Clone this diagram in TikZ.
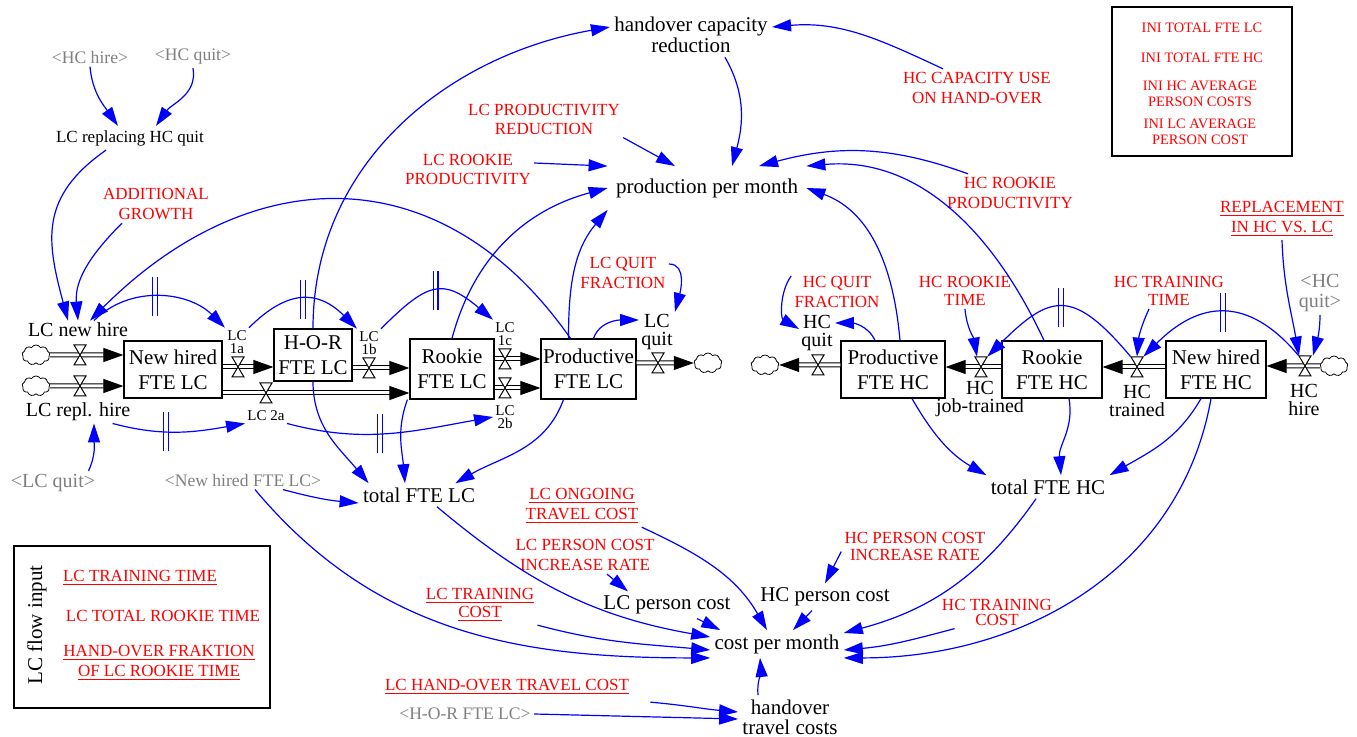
\documentclass[tikz,border=0pt]{standalone}
\usepackage{fontspec}
\setmainfont{Liberation Serif}
\usetikzlibrary{arrows.meta,shapes.symbols}
\newcommand{\fsz}[2]{\fontsize{#1pt}{#2pt}\selectfont}
\begin{document}
\begin{tikzpicture}[x=0.5pt,y=0.5pt,
    stockbox/.style={draw,line width=0.6pt,align=center,font=\fsz{10.5}{12.5},inner sep=0pt},
    auxvar/.style={align=center,font=\fsz{10.5}{9},inner sep=2pt},
    constvar/.style={align=center,text=red,font=\fsz{8.5}{10},inner sep=1.5pt},
    shadowvar/.style={align=center,text=gray,font=\fsz{8.8}{9},inner sep=1.5pt},
    flowlabel/.style={align=center,font=\fsz{10}{9},inner sep=1pt},
    flowsmall/.style={align=center,font=\fsz{7.5}{6.8},inner sep=1pt},
    valvept/.style={minimum width=6pt,minimum height=10pt,inner sep=0pt},
    cloudnode/.style={cloud,cloud puffs=9,cloud puff arc=120,aspect=1.5,draw,line width=0.4pt,minimum width=14pt,minimum height=10pt,inner sep=0pt},
    flowpipe/.style={draw=black,double,double distance=1.5pt,line width=0.5pt,-{Triangle[length=10pt,width=7pt]}},
    infolink/.style={blue,line width=0.6pt,-{Triangle[length=9.5pt,width=6pt]}},
    delaymark/.style={blue,line width=0.6pt},
    valve/.pic={\draw[fill=white,line width=0.5pt] (-6,10) -- (6,10) -- (-6,-10) -- (6,-10) -- cycle;}]
\fill[white] (0,0) rectangle (1357,-737);
\useasboundingbox (0,0) rectangle (1357,-737);
% stocks
\node[stockbox,minimum width=49pt,minimum height=28.5pt] (nhLC) at (173,-369.5) {New hired\\FTE LC};
\node[stockbox,minimum width=39pt,minimum height=26pt] (horLC) at (313,-355) {H-O-R\\FTE LC};
\node[stockbox,minimum width=42pt,minimum height=30pt] (rkLC) at (452,-369) {Rookie\\FTE LC};
\node[stockbox,minimum width=47.5pt,minimum height=30pt] (prLC) at (588.5,-369) {Productive\\FTE LC};
\node[stockbox,minimum width=52pt,minimum height=28.5pt] (prHC) at (893,-369.5) {Productive\\FTE HC};
\node[stockbox,minimum width=50pt,minimum height=28.5pt] (rkHC) at (1052,-369.5) {Rookie\\FTE HC};
\node[stockbox,minimum width=50pt,minimum height=28.5pt] (nhHC) at (1216,-369.5) {New hired\\FTE HC};
% valves and clouds
\node[valvept] (vNewHire) at (80,-355) {};
\node[valvept] (vRepl) at (80,-386) {};
\node[valvept] (v1a) at (238,-367) {};
\node[valvept] (v1b) at (369,-368) {};
\node[valvept] (v2a) at (266,-393) {};
\node[valvept] (v1c) at (505,-359) {};
\node[valvept] (v2b) at (505,-388) {};
\node[valvept] (vLCquit) at (658,-363) {};
\node[valvept] (vHCquit) at (818,-365) {};
\node[valvept] (vJob) at (981,-367) {};
\node[valvept] (vTrained) at (1137,-367) {};
\node[valvept] (vHire) at (1305,-366) {};
\node[cloudnode] (sNewHire) at (36,-355) {};
\node[cloudnode] (sRepl) at (36,-386) {};
\node[cloudnode] (sLCquit) at (708,-363) {};
\node[cloudnode] (sHCquit) at (765,-365) {};
\node[cloudnode] (sHire) at (1334,-366) {};
% flows
\draw[flowpipe] (sNewHire) -- (nhLC.west |- vNewHire);
\draw[flowpipe] (sRepl) -- (nhLC.west |- vRepl);
\draw[flowpipe] (nhLC.east |- v1a) -- (horLC.west |- v1a);
\draw[flowpipe] (nhLC.east |- v2a) -- (rkLC.west |- v2a);
\draw[flowpipe] (horLC.east |- v1b) -- (rkLC.west |- v1b);
\draw[flowpipe] (rkLC.east |- v1c) -- (prLC.west |- v1c);
\draw[flowpipe] (rkLC.east |- v2b) -- (prLC.west |- v2b);
\draw[flowpipe] (prLC.east |- vLCquit) -- (sLCquit);
\draw[flowpipe] (prHC.west |- vHCquit) -- (sHCquit);
\draw[flowpipe] (rkHC.west |- vJob) -- (prHC.east |- vJob);
\draw[flowpipe] (nhHC.west |- vTrained) -- (rkHC.east |- vTrained);
\draw[flowpipe] (sHire) -- (nhHC.east |- vHire);
\foreach \v in {vNewHire,vRepl,v1a,v1b,v2a,v1c,v2b,vLCquit,vHCquit,vJob,vTrained,vHire}
  \pic at (\v) {valve};
% flow names
\node[flowlabel] (lnh) at (78,-330) {LC\ new hire};
\node[flowlabel] (lrepl) at (78,-412) {LC\ repl. hire};
\node[flowsmall] (l1a) at (237,-342) {LC\\1a};
\node[flowsmall] (l1b) at (369,-343) {LC\\1b};
\node[flowsmall] (l2a) at (266,-416) {LC 2a};
\node[flowsmall] (l1c) at (505,-334) {LC\\1c};
\node[flowsmall] (l2b) at (505,-417) {LC\\2b};
\node[flowlabel] (lLCquit) at (657,-332) {LC\\quit};
\node[flowlabel] (lHCquit) at (817,-333) {HC\\quit};
\node[flowlabel] (lJob) at (980,-399) {HC\\job-trained};
\node[flowlabel] (lTrained) at (1137,-401) {HC\\trained};
\node[flowlabel] (lHire) at (1304,-400) {HC\\hire};
% auxiliaries
\node[auxvar] (hcr) at (691,-35) {handover capacity\\reduction};
\node[auxvar,inner xsep=4pt,inner ysep=6pt] (ppm) at (707,-188) {production per month};
\node[auxvar,font=\fsz{8.5}{10}] (lcrep) at (130,-138) {LC replacing HC quit};
\node[auxvar] (tFTELC) at (419,-495) {total FTE LC};
\node[auxvar] (tFTEHC) at (1048,-487) {total FTE HC};
\node[auxvar] (lcpc) at (667,-605) {LC person cost};
\node[auxvar] (hcpc) at (825,-597) {HC person cost};
\node[auxvar] (cpm) at (777,-644) {cost per month};
\node[auxvar,font=\fsz{10.5}{10}] (htc) at (790,-717) {handover\\travel costs};
% constants
\node[constvar,font=\fsz{8.5}{9.5}] (cLCprodRed) at (544,-119) {LC PRODUCTIVITY\\REDUCTION};
\node[constvar,font=\fsz{8.5}{9.5}] (cLCrookieProd) at (468,-170) {LC ROOKIE\\PRODUCTIVITY};
\node[constvar] (cHCcapUse) at (977,-88) {HC CAPACITY USE\\ON HAND-OVER};
\node[constvar] (cHCrookieProd) at (1010,-193) {HC ROOKIE\\PRODUCTIVITY};
\node[constvar] (cAddGrowth) at (156,-204) {ADDITIONAL\\GROWTH};
\node[constvar] (cRepl) at (1282,-219) {\underline{REPLACEMENT}\\\underline{IN HC VS. LC}};
\node[constvar] (cLCquitFrac) at (623,-273) {LC QUIT\\FRACTION};
\node[constvar] (cHCquitFrac) at (837,-292) {HC QUIT\\FRACTION};
\node[constvar,font=\fsz{8.5}{9}] (cHCrookieTime) at (965,-291) {HC ROOKIE\\TIME};
\node[constvar,font=\fsz{8.5}{9}] (cHCtrainTime) at (1169,-291) {HC TRAINING\\TIME};
\node[constvar] (cLCongoing) at (582,-506) {\underline{LC ONGOING}\\\underline{TRAVEL COST}};
\node[constvar] (cLCpcir) at (585,-555) {LC PERSON COST\\INCREASE RATE};
\node[constvar,font=\fsz{8.5}{9}] (cLCtrainCost) at (480,-605) {\underline{LC TRAINING}\\\underline{COST}};
\node[constvar,font=\fsz{8.5}{8.5}] (cHCpcir) at (915,-546) {HC PERSON COST\\INCREASE RATE};
\node[constvar,font=\fsz{8.5}{7.5}] (cHCtrainCost) at (997,-612) {HC TRAINING\\COST};
\node[constvar] (cLChoTravel) at (507,-687) {\underline{LC HAND-OVER TRAVEL COST}};
% shadow variables
\node[shadowvar] (gHChire) at (90,-57) {\textless HC hire\textgreater};
\node[shadowvar] (gHCquit) at (193,-57) {\textless HC quit\textgreater};
\node[shadowvar] (gNewHiredLC) at (243,-480) {\textless New hired FTE LC\textgreater};
\node[shadowvar] (gHOR) at (465,-714) {\textless H-O-R FTE LC\textgreater};
\node[shadowvar,font=\fsz{10}{10}] (gLCquit) at (53,-483) {\textless LC quit\textgreater};
\node[shadowvar,font=\fsz{10}{10}] (gHCquit2) at (1320,-293) {\textless HC\\quit\textgreater};
% boxes
\node[draw,line width=0.6pt,minimum width=90pt,minimum height=74.5pt] (iniBox) at (1202,-81.5) {};
\node[constvar,font=\fsz{7.2}{8}] (iniLC) at (1202,-28) {INI TOTAL FTE LC};
\node[constvar,font=\fsz{7.2}{8}] (iniHC) at (1202,-58) {INI TOTAL FTE HC};
\node[constvar,font=\fsz{7.2}{8}] (iniHCcost) at (1200,-94) {INI HC AVERAGE\\PERSON COSTS};
\node[constvar,font=\fsz{7.2}{8}] (iniLCcost) at (1200,-132) {INI LC AVERAGE\\PERSON COST};
\node[draw,line width=0.6pt,minimum width=128pt,minimum height=81pt] (flowBox) at (142,-627) {};
\node[rotate=90,font=\fsz{10.5}{12}] (flowTitle) at (37,-625) {LC flow input};
\node[constvar] (lcTrainTime) at (140,-578) {\underline{LC TRAINING TIME}};
\node[constvar] (lcRookieTime) at (163,-616) {LC TOTAL ROOKIE TIME};
\node[constvar] (hoFrak) at (159,-663) {\underline{HAND-OVER FRAKTION}\\\underline{OF LC ROOKIE TIME}};
% links, LC side
\draw[infolink] (gHChire.south) to[out=-85,in=125] ([xshift=-6pt]lcrep.north);
\draw[infolink] (gHCquit.south) to[out=-80,in=55] ([xshift=13pt]lcrep.north);
\draw[infolink] ([xshift=-12pt]lcrep.south) to[out=-145,in=105,looseness=1.2] ([xshift=-5pt]lnh.north);
\draw[infolink] ([xshift=-17pt]cAddGrowth.south) to[out=-135,in=95] (lnh.north);
\draw[infolink] ([xshift=-9pt]prLC.north) to[out=125,in=45,looseness=1.2] ([xshift=6pt]lnh.north);
\draw[infolink] ([xshift=8pt]lnh.north) to[out=45,in=135] coordinate[pos=0.47] (d1) (l1a.north west);
\draw[infolink] (l1a.north east) to[out=45,in=135,looseness=1.3] coordinate[pos=0.5] (d2) (l1b.north west);
\draw[infolink] (l1b.north east) to[out=45,in=140,looseness=1.5] coordinate[pos=0.5] (d3) (l1c.north west);
\draw[infolink] ([xshift=-10pt]lrepl.south east) to[out=-15,in=-170] coordinate[pos=0.4] (d4) (l2a.south west);
\draw[infolink] (l2a.south east) to[out=-15,in=-170] coordinate[pos=0.45] (d5) (l2b.west);
\draw[infolink] ([xshift=-5pt]gLCquit.north east) to[out=65,in=-90] ([xshift=8pt]lrepl.south);
\draw[infolink] (horLC.north) to[out=90,in=-170] ([yshift=4pt]hcr.west);
\draw[infolink] ([xshift=17pt]hcr.south) to[out=-60,in=75] ([xshift=12.5pt]ppm.north);
\draw[infolink] (cLCprodRed.south east) -- ([xshift=-16pt]ppm.north);
\draw[infolink] ([yshift=3.5pt]cLCrookieProd.east) -- (ppm.north west);
\draw[infolink] (rkLC.north) to[out=75,in=-165] (ppm.west);
\draw[infolink] ([xshift=-10pt]prLC.north) to[out=90,in=-130] (ppm.south west);
\draw[infolink] ([xshift=2.5pt]prLC.north) to[out=70,in=180] ([yshift=6pt]lLCquit.west);
\draw[infolink] ([yshift=4.5pt]cLCquitFrac.east) to[out=0,in=75] (lLCquit.north east);
\draw[infolink] ([xshift=-12.5pt]prLC.south) to[out=-110,in=30] ([xshift=-12pt]tFTELC.north east);
\draw[infolink] (horLC.south) to[out=-90,in=130] ([xshift=5pt]tFTELC.north west);
\draw[infolink] ([xshift=-1pt]rkLC.south west) to[out=-110,in=95] ([xshift=-7pt]tFTELC.north);
\draw[infolink] ([xshift=20pt]gNewHiredLC.south) to[out=-15,in=175] ([yshift=-4pt]tFTELC.west);
% links, HC side
\draw[infolink] ([xshift=-17pt]cHCcapUse.north) to[out=155,in=5] ([yshift=4pt]hcr.east);
\draw[infolink] ([xshift=-21pt]cHCrookieProd.north) to[out=160,in=15] ([xshift=26pt]ppm.north);
\draw[infolink] ([xshift=-4pt]rkHC.north) to[out=115,in=5] (ppm.north east);
\draw[infolink] ([xshift=3.5pt]prHC.north) to[out=95,in=-20] (ppm.east);
\draw[infolink] ([yshift=8pt]cHCquitFrac.west) to[out=-125,in=150] ([yshift=2pt]lHCquit.west);
\draw[infolink] ([xshift=-9pt]prHC.north) to[out=115,in=0] ([yshift=5pt]lHCquit.east);
\draw[infolink] (cHCrookieTime.south) to[out=-85,in=100] ([xshift=-2pt]vJob.north);
\draw[infolink] ([xshift=-10pt]cHCtrainTime.south) to[out=-115,in=85] (vTrained.north);
\draw[infolink] (vTrained.north west) to[out=130,in=45,looseness=1.6] coordinate[pos=0.5] (d6) (vJob.north east);
\draw[infolink] (vHire.north west) to[out=130,in=45,looseness=1.3] coordinate[pos=0.5] (d7) (vTrained.north east);
\draw[infolink] (cRepl.south) to[out=-88,in=100] ([xshift=-3pt]vHire.north);
\draw[infolink] (gHCquit2.south) to[out=-90,in=75] ([xshift=4pt]vHire.north);
\draw[infolink] ([xshift=9.5pt]prHC.south) to[out=-60,in=150] (tFTEHC.north west);
\draw[infolink] ([xshift=8.5pt]rkHC.south) to[out=-80,in=95] ([xshift=6.5pt]tFTEHC.north);
\draw[infolink] ([xshift=-7.5pt]nhHC.south) to[out=-120,in=30] (tFTEHC.north east);
% links, costs
\draw[infolink] ([xshift=6pt]gNewHiredLC.south) to[out=-50,in=180] (cpm.south west);
\draw[infolink] ([xshift=9pt]tFTELC.south) to[out=-40,in=170] ([yshift=3.5pt]cpm.west);
\draw[infolink] (cLCtrainCost.south east) to[out=-15,in=175] ([yshift=-3pt]cpm.west);
\draw[infolink] (cLCongoing.south east) to[out=-25,in=120] ([xshift=-5pt]cpm.north);
\draw[infolink] ([xshift=11pt]cLCpcir.south) -- ([xshift=-19.5pt]lcpc.north);
\draw[infolink] ([xshift=15pt]lcpc.south) -- ([xshift=5pt]cpm.north west);
\draw[infolink] ([yshift=6pt]cHCpcir.south west) -- (hcpc.north);
\draw[infolink] ([xshift=-6.5pt]hcpc.south) -- ([xshift=8pt]cpm.north);
\draw[infolink] ([xshift=-6pt]tFTEHC.south) to[out=-125,in=15] ([yshift=5.5pt]cpm.east);
\draw[infolink] ([xshift=8pt]cHCtrainCost.south west) to[out=-165,in=5] ([yshift=-3pt]cpm.east);
\draw[infolink] ([xshift=-2.5pt]nhHC.south) to[out=-100,in=0] (cpm.south east);
\draw[infolink] ([xshift=-16pt]htc.north) to[out=95,in=-85] ([xshift=-8.5pt]cpm.south);
\draw[infolink] ([xshift=9pt,yshift=-2pt]cLChoTravel.south east) to[out=-5,in=175] ([yshift=2.5pt]htc.west);
\draw[infolink] (gHOR.east) -- ([yshift=-1pt]htc.west);
% delay marks
\foreach \d in {d1,d2,d3,d4,d5,d6,d7}
  \draw[delaymark] ([xshift=-1.2pt,yshift=-9.75pt]\d) -- ++(0,39) ([xshift=1.2pt,yshift=-9.75pt]\d) -- ++(0,39);
\end{tikzpicture}
\end{document}
